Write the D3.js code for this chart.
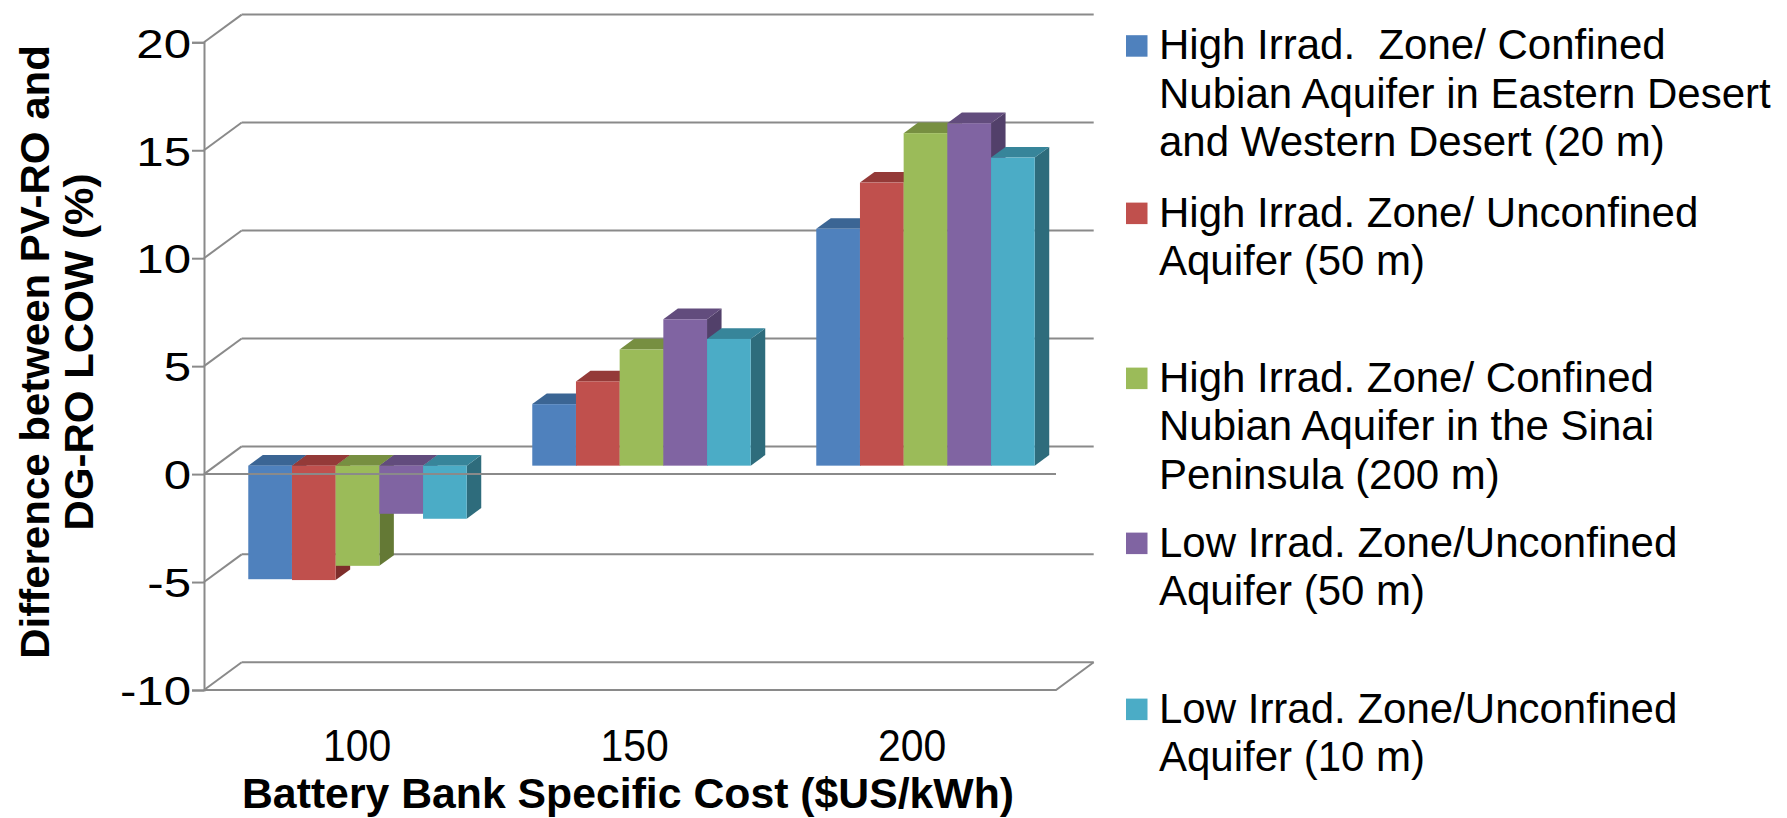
<!DOCTYPE html>
<html>
<head>
<meta charset="utf-8">
<script src="https://cdn.jsdelivr.net/npm/d3@7/dist/d3.min.js"></script>
<style>
  html, body { margin: 0; padding: 0; background: #ffffff; }
  svg { display: block; }
  text { font-family: "Liberation Sans", Arial, sans-serif; fill: #000; white-space: pre; }
</style>
</head>
<body>
<svg id="chart" width="1787" height="818"></svg>
<script>
// Battery bank specific cost categories ($US/kWh)
const categories = ["100", "150", "200"];

// Series names (legend, wrapped lines)
const seriesNames = [
  ["High Irrad.  Zone/ Confined", "Nubian Aquifer in Eastern Desert", "and Western Desert (20 m)"],
  ["High Irrad. Zone/ Unconfined", "Aquifer (50 m)"],
  ["High Irrad. Zone/ Confined", "Nubian Aquifer in the Sinai", "Peninsula (200 m)"],
  ["Low Irrad. Zone/Unconfined", "Aquifer (50 m)"],
  ["Low Irrad. Zone/Unconfined", "Aquifer (10 m)"]
];

// Difference between PV-RO and DG-RO LCOW (%), one array per series, per category
const highConfinedDesert = [-5.26, 2.85, 10.97];
const highUnconfined50   = [-5.30, 3.90, 13.11];
const highConfinedSinai  = [-4.64, 5.38, 15.40];
const lowUnconfined50    = [-2.23, 6.78, 15.86];
const lowUnconfined10    = [-2.46, 5.87, 14.27];
const seriesValues = [highConfinedDesert, highUnconfined50, highConfinedSinai, lowUnconfined50, lowUnconfined10];

// Value axis ticks
const yTicks = [-10, -5, 0, 5, 10, 15, 20];

// Face colours: front, top, side
const seriesColors = [
  { front: "#4F81BD", top: "#3B6594", side: "#2F507A" },
  { front: "#C0504D", top: "#943A38", side: "#7E2D2B" },
  { front: "#9BBB59", top: "#778F41", side: "#647935" },
  { front: "#8064A2", top: "#624C7D", side: "#52406A" },
  { front: "#4BACC6", top: "#37859A", side: "#2E6C7C" }
];

const svg = d3.select("#chart");

// Plot frame (front plane) and the depth offset of the back wall
const plotLeft = 204, plotRight = 1056, plotTop = 42.3, plotBottom = 690;
const depthX = 37.7, depthY = -27.7;
const barFront = 0.305, barDepth = 0.385;   // fractions of full depth

const y = d3.scaleLinear().domain([-10, 20]).range([plotBottom, plotTop]);
const x0 = d3.scaleBand().domain(categories).range([plotLeft, plotRight]).paddingInner(0).paddingOuter(0);
const x1 = d3.scaleBand().domain(d3.range(seriesNames.length)).range([0, x0.bandwidth()])
  .paddingInner(0).paddingOuter(0.75);
// Category label positions along the floor
const xLabel = d3.scalePoint().domain(categories).range([357, 912]);

const gridColor = "#8A8A8A";
const grid = svg.append("g").attr("fill", "none").attr("stroke", gridColor).attr("stroke-width", 2);

// Side wall diagonals and back wall gridlines
yTicks.forEach(v => {
  const yf = y(v);
  grid.append("line").attr("x1", plotLeft).attr("y1", yf).attr("x2", plotLeft + depthX).attr("y2", yf + depthY);
  grid.append("line").attr("x1", plotLeft + depthX).attr("y1", yf + depthY).attr("x2", plotRight + depthX).attr("y2", yf + depthY);
});

// Floor front edge and right edge
grid.append("path").attr("d",
  `M${plotLeft},${y(-10)}L${plotRight},${y(-10)}L${plotRight + depthX},${y(-10) + depthY}`);

// Value axis with tick marks
const yAxis = d3.axisLeft(y).tickValues(yTicks).tickSize(12).tickFormat(d => String(d));
const yAxisG = svg.append("g").attr("transform", `translate(${plotLeft},0)`).call(yAxis);
yAxisG.select(".domain").attr("stroke", gridColor).attr("stroke-width", 2);
yAxisG.selectAll(".tick line").attr("stroke", gridColor).attr("stroke-width", 2);
yAxisG.selectAll(".tick text")
  .attr("font-family", "Liberation Sans, Arial, sans-serif")
  .attr("font-size", 41).attr("fill", "#000")
  .attr("x", 0).attr("dy", "0.36em")
  .attr("transform", "translate(-13,0) scale(1.2,1)");

// 3D columns
const bars = svg.append("g");
const fdx = barFront * depthX, fdy = barFront * depthY;
const bdx = barDepth * depthX, bdy = barDepth * depthY;

categories.forEach((cat, ci) => {
  seriesValues.forEach((vals, si) => {
    const v = vals[ci];
    const c = seriesColors[si];
    const xl = x0(cat) + x1(si) + fdx;
    const xr = xl + x1.bandwidth();
    const yTop = Math.min(y(v), y(0)) + fdy;
    const yBot = Math.max(y(v), y(0)) + fdy;
    const g = bars.append("g");
    // right side face
    g.append("path").attr("fill", c.side)
      .attr("d", `M${xr},${yTop}L${xr + bdx},${yTop + bdy}L${xr + bdx},${yBot + bdy}L${xr},${yBot}Z`);
    // top face
    g.append("path").attr("fill", c.top)
      .attr("d", `M${xl},${yTop}L${xl + bdx},${yTop + bdy}L${xr + bdx},${yTop + bdy}L${xr},${yTop}Z`);
    // front face
    g.append("rect").attr("fill", c.front)
      .attr("x", xl).attr("y", yTop).attr("width", x1.bandwidth()).attr("height", yBot - yTop);
  });
});

// Category axis line at zero, in front of the columns
svg.append("line").attr("stroke", gridColor).attr("stroke-width", 2)
  .attr("x1", plotLeft).attr("x2", plotRight).attr("y1", y(0)).attr("y2", y(0));

// Category labels
svg.append("g").selectAll("text").data(categories).join("text")
  .attr("transform", d => `translate(${xLabel(d)},761) scale(0.93,1)`)
  .attr("text-anchor", "middle")
  .attr("font-size", 44)
  .text(d => d);

// Axis titles
svg.append("text")
  .attr("x", 628).attr("y", 808)
  .attr("text-anchor", "middle").attr("font-size", 43).attr("font-weight", "bold")
  .attr("textLength", 772).attr("lengthAdjust", "spacingAndGlyphs")
  .text("Battery Bank Specific Cost ($US/kWh)");

const yTitle = svg.append("text")
  .attr("transform", "translate(3,352) rotate(-90) scale(1.05,1)")
  .attr("text-anchor", "middle").attr("font-size", 40).attr("font-weight", "bold");
yTitle.append("tspan").attr("x", 0).attr("y", 46).text("Difference between PV-RO and");
yTitle.append("tspan").attr("x", 0).attr("y", 90).text("DG-RO LCOW (%)");

// Legend
const legendX = 1126, legendTextX = 1159, lineH = 48.5, swatch = 21.5;
const legendFirstBaseline = [59.3, 226.7, 391.7, 556.7, 722.7];
const legend = svg.append("g");
seriesNames.forEach((lines, si) => {
  const b = legendFirstBaseline[si];
  legend.append("rect").attr("x", legendX).attr("y", b - 2.6 - swatch)
    .attr("width", swatch).attr("height", swatch).attr("fill", seriesColors[si].front);
  const t = legend.append("text").attr("font-size", 42);
  lines.forEach((ln, li) => {
    t.append("tspan").attr("x", legendTextX).attr("y", b + li * lineH).text(ln);
  });
});
</script>
</body>
</html>
